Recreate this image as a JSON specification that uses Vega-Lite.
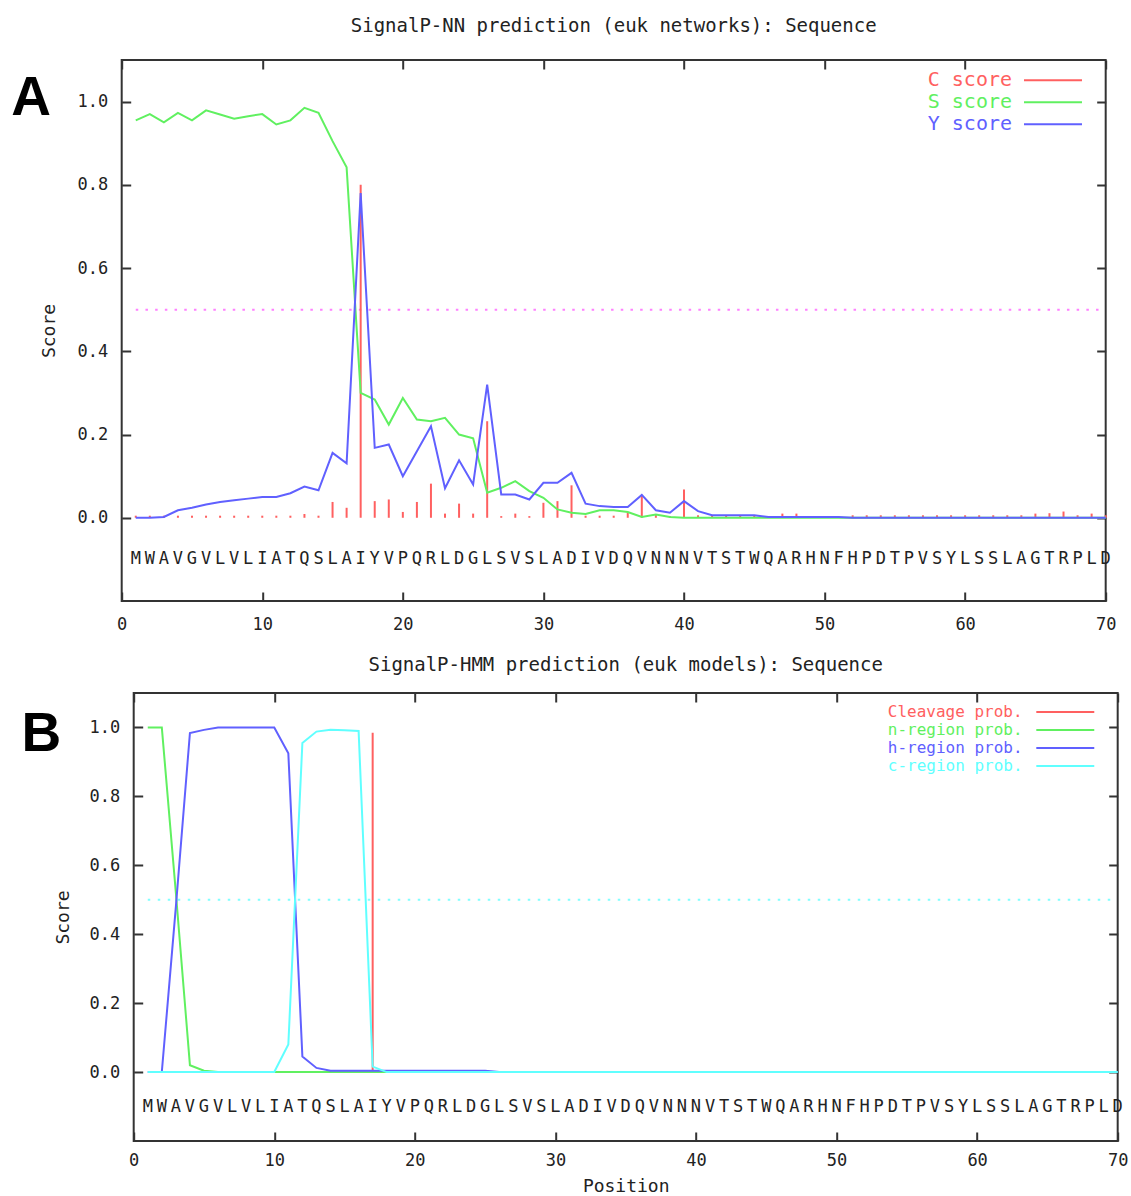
{
  "$schema": "https://vega.github.io/schema/vega-lite/v6.json",
  "background": "white",
  "padding": {"left": 8.7, "top": 16, "right": 5, "bottom": 0},
  "spacing": 21,
  "config": {
    "view": {"stroke": "#333", "strokeWidth": 2},
    "axis": {"domain": false, "grid": false, "tickSize": -9, "tickWidth": 2, "tickColor": "#333", "labelFont": "DejaVu Sans Mono", "labelFontSize": 17, "labelColor": "#222", "labelFlush": false, "labelOverlap": false, "titleFont": "DejaVu Sans Mono", "titleFontSize": 18, "titleFontWeight": "normal", "titleColor": "#222"},
    "legend": {"orient": "none", "title": null, "symbolStrokeWidth": 2, "labelFont": "DejaVu Sans Mono", "labelAlign": "right", "labelLimit": 400, "padding": 0, "rowPadding": 0},
    "title": {"font": "DejaVu Sans Mono", "fontSize": 19, "fontWeight": "normal", "color": "#222"}
  },
  "datasets": {
    "seq": [
      {"pos":1,"aa":"M"},{"pos":2,"aa":"W"},{"pos":3,"aa":"A"},{"pos":4,"aa":"V"},{"pos":5,"aa":"G"},{"pos":6,"aa":"V"},{"pos":7,"aa":"L"},{"pos":8,"aa":"V"},{"pos":9,"aa":"L"},{"pos":10,"aa":"I"},
      {"pos":11,"aa":"A"},{"pos":12,"aa":"T"},{"pos":13,"aa":"Q"},{"pos":14,"aa":"S"},{"pos":15,"aa":"L"},{"pos":16,"aa":"A"},{"pos":17,"aa":"I"},{"pos":18,"aa":"Y"},{"pos":19,"aa":"V"},{"pos":20,"aa":"P"},
      {"pos":21,"aa":"Q"},{"pos":22,"aa":"R"},{"pos":23,"aa":"L"},{"pos":24,"aa":"D"},{"pos":25,"aa":"G"},{"pos":26,"aa":"L"},{"pos":27,"aa":"S"},{"pos":28,"aa":"V"},{"pos":29,"aa":"S"},{"pos":30,"aa":"L"},
      {"pos":31,"aa":"A"},{"pos":32,"aa":"D"},{"pos":33,"aa":"I"},{"pos":34,"aa":"V"},{"pos":35,"aa":"D"},{"pos":36,"aa":"Q"},{"pos":37,"aa":"V"},{"pos":38,"aa":"N"},{"pos":39,"aa":"N"},{"pos":40,"aa":"N"},
      {"pos":41,"aa":"V"},{"pos":42,"aa":"T"},{"pos":43,"aa":"S"},{"pos":44,"aa":"T"},{"pos":45,"aa":"W"},{"pos":46,"aa":"Q"},{"pos":47,"aa":"A"},{"pos":48,"aa":"R"},{"pos":49,"aa":"H"},{"pos":50,"aa":"N"},
      {"pos":51,"aa":"F"},{"pos":52,"aa":"H"},{"pos":53,"aa":"P"},{"pos":54,"aa":"D"},{"pos":55,"aa":"T"},{"pos":56,"aa":"P"},{"pos":57,"aa":"V"},{"pos":58,"aa":"S"},{"pos":59,"aa":"Y"},{"pos":60,"aa":"L"},
      {"pos":61,"aa":"S"},{"pos":62,"aa":"S"},{"pos":63,"aa":"L"},{"pos":64,"aa":"A"},{"pos":65,"aa":"G"},{"pos":66,"aa":"T"},{"pos":67,"aa":"R"},{"pos":68,"aa":"P"},{"pos":69,"aa":"L"},{"pos":70,"aa":"D"}
    ],
    "nn": [
      {"pos":1,"series":"C score","score":0.005},{"pos":2,"series":"C score","score":0.005},{"pos":3,"series":"C score","score":0.005},{"pos":4,"series":"C score","score":0.005},{"pos":5,"series":"C score","score":0.005},
      {"pos":6,"series":"C score","score":0.005},{"pos":7,"series":"C score","score":0.005},{"pos":8,"series":"C score","score":0.005},{"pos":9,"series":"C score","score":0.005},{"pos":10,"series":"C score","score":0.005},
      {"pos":11,"series":"C score","score":0.005},{"pos":12,"series":"C score","score":0.005},{"pos":13,"series":"C score","score":0.009},{"pos":14,"series":"C score","score":0.005},{"pos":15,"series":"C score","score":0.038},
      {"pos":16,"series":"C score","score":0.024},{"pos":17,"series":"C score","score":0.8},{"pos":18,"series":"C score","score":0.04},{"pos":19,"series":"C score","score":0.044},{"pos":20,"series":"C score","score":0.014},
      {"pos":21,"series":"C score","score":0.038},{"pos":22,"series":"C score","score":0.082},{"pos":23,"series":"C score","score":0.01},{"pos":24,"series":"C score","score":0.034},{"pos":25,"series":"C score","score":0.01},
      {"pos":26,"series":"C score","score":0.232},{"pos":27,"series":"C score","score":0.004},{"pos":28,"series":"C score","score":0.01},{"pos":29,"series":"C score","score":0.004},{"pos":30,"series":"C score","score":0.036},
      {"pos":31,"series":"C score","score":0.04},{"pos":32,"series":"C score","score":0.078},{"pos":33,"series":"C score","score":0.005},{"pos":34,"series":"C score","score":0.005},{"pos":35,"series":"C score","score":0.005},
      {"pos":36,"series":"C score","score":0.012},{"pos":37,"series":"C score","score":0.055},{"pos":38,"series":"C score","score":0.007},{"pos":39,"series":"C score","score":0.004},{"pos":40,"series":"C score","score":0.068},
      {"pos":41,"series":"C score","score":0.006},{"pos":42,"series":"C score","score":0.006},{"pos":43,"series":"C score","score":0.006},{"pos":44,"series":"C score","score":0.006},{"pos":45,"series":"C score","score":0.006},
      {"pos":46,"series":"C score","score":0.003},{"pos":47,"series":"C score","score":0.01},{"pos":48,"series":"C score","score":0.01},{"pos":49,"series":"C score","score":0.003},{"pos":50,"series":"C score","score":0.003},
      {"pos":51,"series":"C score","score":0.003},{"pos":52,"series":"C score","score":0.006},{"pos":53,"series":"C score","score":0.006},{"pos":54,"series":"C score","score":0.006},{"pos":55,"series":"C score","score":0.006},
      {"pos":56,"series":"C score","score":0.006},{"pos":57,"series":"C score","score":0.006},{"pos":58,"series":"C score","score":0.006},{"pos":59,"series":"C score","score":0.006},{"pos":60,"series":"C score","score":0.006},
      {"pos":61,"series":"C score","score":0.006},{"pos":62,"series":"C score","score":0.006},{"pos":63,"series":"C score","score":0.006},{"pos":64,"series":"C score","score":0.006},{"pos":65,"series":"C score","score":0.01},
      {"pos":66,"series":"C score","score":0.011},{"pos":67,"series":"C score","score":0.015},{"pos":68,"series":"C score","score":0.006},{"pos":69,"series":"C score","score":0.01},{"pos":70,"series":"C score","score":0.006},

      {"pos":1,"series":"S score","score":0.955},{"pos":2,"series":"S score","score":0.97},{"pos":3,"series":"S score","score":0.95},{"pos":4,"series":"S score","score":0.973},{"pos":5,"series":"S score","score":0.955},
      {"pos":6,"series":"S score","score":0.979},{"pos":7,"series":"S score","score":0.969},{"pos":8,"series":"S score","score":0.959},{"pos":9,"series":"S score","score":0.965},{"pos":10,"series":"S score","score":0.97},
      {"pos":11,"series":"S score","score":0.945},{"pos":12,"series":"S score","score":0.955},{"pos":13,"series":"S score","score":0.985},{"pos":14,"series":"S score","score":0.973},{"pos":15,"series":"S score","score":0.905},
      {"pos":16,"series":"S score","score":0.842},{"pos":17,"series":"S score","score":0.3},{"pos":18,"series":"S score","score":0.284},{"pos":19,"series":"S score","score":0.224},{"pos":20,"series":"S score","score":0.288},
      {"pos":21,"series":"S score","score":0.236},{"pos":22,"series":"S score","score":0.232},{"pos":23,"series":"S score","score":0.24},{"pos":24,"series":"S score","score":0.2},{"pos":25,"series":"S score","score":0.191},
      {"pos":26,"series":"S score","score":0.06},{"pos":27,"series":"S score","score":0.072},{"pos":28,"series":"S score","score":0.088},{"pos":29,"series":"S score","score":0.064},{"pos":30,"series":"S score","score":0.048},
      {"pos":31,"series":"S score","score":0.02},{"pos":32,"series":"S score","score":0.012},{"pos":33,"series":"S score","score":0.009},{"pos":34,"series":"S score","score":0.018},{"pos":35,"series":"S score","score":0.018},
      {"pos":36,"series":"S score","score":0.014},{"pos":37,"series":"S score","score":0.002},{"pos":38,"series":"S score","score":0.008},{"pos":39,"series":"S score","score":0.002},{"pos":40,"series":"S score","score":0},
      {"pos":41,"series":"S score","score":0},{"pos":42,"series":"S score","score":0},{"pos":43,"series":"S score","score":0},{"pos":44,"series":"S score","score":0},{"pos":45,"series":"S score","score":0},
      {"pos":46,"series":"S score","score":0},{"pos":47,"series":"S score","score":0},{"pos":48,"series":"S score","score":0},{"pos":49,"series":"S score","score":0},{"pos":50,"series":"S score","score":0},
      {"pos":51,"series":"S score","score":0},{"pos":52,"series":"S score","score":0},{"pos":53,"series":"S score","score":0},{"pos":54,"series":"S score","score":0},{"pos":55,"series":"S score","score":0},
      {"pos":56,"series":"S score","score":0},{"pos":57,"series":"S score","score":0},{"pos":58,"series":"S score","score":0},{"pos":59,"series":"S score","score":0},{"pos":60,"series":"S score","score":0},
      {"pos":61,"series":"S score","score":0},{"pos":62,"series":"S score","score":0},{"pos":63,"series":"S score","score":0},{"pos":64,"series":"S score","score":0},{"pos":65,"series":"S score","score":0},
      {"pos":66,"series":"S score","score":0},{"pos":67,"series":"S score","score":0},{"pos":68,"series":"S score","score":0},{"pos":69,"series":"S score","score":0},{"pos":70,"series":"S score","score":0},

      {"pos":1,"series":"Y score","score":0},{"pos":2,"series":"Y score","score":0},{"pos":3,"series":"Y score","score":0.002},{"pos":4,"series":"Y score","score":0.018},{"pos":5,"series":"Y score","score":0.024},
      {"pos":6,"series":"Y score","score":0.032},{"pos":7,"series":"Y score","score":0.038},{"pos":8,"series":"Y score","score":0.042},{"pos":9,"series":"Y score","score":0.046},{"pos":10,"series":"Y score","score":0.05},
      {"pos":11,"series":"Y score","score":0.05},{"pos":12,"series":"Y score","score":0.059},{"pos":13,"series":"Y score","score":0.075},{"pos":14,"series":"Y score","score":0.066},{"pos":15,"series":"Y score","score":0.156},
      {"pos":16,"series":"Y score","score":0.131},{"pos":17,"series":"Y score","score":0.78},{"pos":18,"series":"Y score","score":0.168},{"pos":19,"series":"Y score","score":0.176},{"pos":20,"series":"Y score","score":0.1},
      {"pos":21,"series":"Y score","score":0.16},{"pos":22,"series":"Y score","score":0.22},{"pos":23,"series":"Y score","score":0.071},{"pos":24,"series":"Y score","score":0.138},{"pos":25,"series":"Y score","score":0.08},
      {"pos":26,"series":"Y score","score":0.32},{"pos":27,"series":"Y score","score":0.056},{"pos":28,"series":"Y score","score":0.056},{"pos":29,"series":"Y score","score":0.044},{"pos":30,"series":"Y score","score":0.084},
      {"pos":31,"series":"Y score","score":0.084},{"pos":32,"series":"Y score","score":0.108},{"pos":33,"series":"Y score","score":0.034},{"pos":34,"series":"Y score","score":0.028},{"pos":35,"series":"Y score","score":0.026},
      {"pos":36,"series":"Y score","score":0.026},{"pos":37,"series":"Y score","score":0.055},{"pos":38,"series":"Y score","score":0.018},{"pos":39,"series":"Y score","score":0.012},{"pos":40,"series":"Y score","score":0.04},
      {"pos":41,"series":"Y score","score":0.016},{"pos":42,"series":"Y score","score":0.006},{"pos":43,"series":"Y score","score":0.006},{"pos":44,"series":"Y score","score":0.006},{"pos":45,"series":"Y score","score":0.006},
      {"pos":46,"series":"Y score","score":0.002},{"pos":47,"series":"Y score","score":0.002},{"pos":48,"series":"Y score","score":0.002},{"pos":49,"series":"Y score","score":0.002},{"pos":50,"series":"Y score","score":0.002},
      {"pos":51,"series":"Y score","score":0.002},{"pos":52,"series":"Y score","score":0},{"pos":53,"series":"Y score","score":0},{"pos":54,"series":"Y score","score":0},{"pos":55,"series":"Y score","score":0},
      {"pos":56,"series":"Y score","score":0},{"pos":57,"series":"Y score","score":0},{"pos":58,"series":"Y score","score":0},{"pos":59,"series":"Y score","score":0},{"pos":60,"series":"Y score","score":0},
      {"pos":61,"series":"Y score","score":0},{"pos":62,"series":"Y score","score":0},{"pos":63,"series":"Y score","score":0},{"pos":64,"series":"Y score","score":0},{"pos":65,"series":"Y score","score":0},
      {"pos":66,"series":"Y score","score":0},{"pos":67,"series":"Y score","score":0},{"pos":68,"series":"Y score","score":0},{"pos":69,"series":"Y score","score":0},{"pos":70,"series":"Y score","score":0}
    ],
    "hmm": [
      {"pos":17,"series":"Cleavage prob.","score":0.985},

      {"pos":1,"series":"n-region prob.","score":1},{"pos":2,"series":"n-region prob.","score":1},{"pos":3,"series":"n-region prob.","score":0.52},{"pos":4,"series":"n-region prob.","score":0.02},{"pos":5,"series":"n-region prob.","score":0.004},
      {"pos":6,"series":"n-region prob.","score":0},{"pos":7,"series":"n-region prob.","score":0},{"pos":8,"series":"n-region prob.","score":0},{"pos":9,"series":"n-region prob.","score":0},{"pos":10,"series":"n-region prob.","score":0},
      {"pos":11,"series":"n-region prob.","score":0},{"pos":12,"series":"n-region prob.","score":0},{"pos":13,"series":"n-region prob.","score":0},{"pos":14,"series":"n-region prob.","score":0},{"pos":15,"series":"n-region prob.","score":0},
      {"pos":16,"series":"n-region prob.","score":0},{"pos":17,"series":"n-region prob.","score":0},{"pos":18,"series":"n-region prob.","score":0},{"pos":19,"series":"n-region prob.","score":0},{"pos":20,"series":"n-region prob.","score":0},
      {"pos":21,"series":"n-region prob.","score":0},{"pos":22,"series":"n-region prob.","score":0},{"pos":23,"series":"n-region prob.","score":0},{"pos":24,"series":"n-region prob.","score":0},{"pos":25,"series":"n-region prob.","score":0},
      {"pos":26,"series":"n-region prob.","score":0},{"pos":27,"series":"n-region prob.","score":0},{"pos":28,"series":"n-region prob.","score":0},{"pos":29,"series":"n-region prob.","score":0},{"pos":30,"series":"n-region prob.","score":0},
      {"pos":31,"series":"n-region prob.","score":0},{"pos":32,"series":"n-region prob.","score":0},{"pos":33,"series":"n-region prob.","score":0},{"pos":34,"series":"n-region prob.","score":0},{"pos":35,"series":"n-region prob.","score":0},
      {"pos":36,"series":"n-region prob.","score":0},{"pos":37,"series":"n-region prob.","score":0},{"pos":38,"series":"n-region prob.","score":0},{"pos":39,"series":"n-region prob.","score":0},{"pos":40,"series":"n-region prob.","score":0},
      {"pos":41,"series":"n-region prob.","score":0},{"pos":42,"series":"n-region prob.","score":0},{"pos":43,"series":"n-region prob.","score":0},{"pos":44,"series":"n-region prob.","score":0},{"pos":45,"series":"n-region prob.","score":0},
      {"pos":46,"series":"n-region prob.","score":0},{"pos":47,"series":"n-region prob.","score":0},{"pos":48,"series":"n-region prob.","score":0},{"pos":49,"series":"n-region prob.","score":0},{"pos":50,"series":"n-region prob.","score":0},
      {"pos":51,"series":"n-region prob.","score":0},{"pos":52,"series":"n-region prob.","score":0},{"pos":53,"series":"n-region prob.","score":0},{"pos":54,"series":"n-region prob.","score":0},{"pos":55,"series":"n-region prob.","score":0},
      {"pos":56,"series":"n-region prob.","score":0},{"pos":57,"series":"n-region prob.","score":0},{"pos":58,"series":"n-region prob.","score":0},{"pos":59,"series":"n-region prob.","score":0},{"pos":60,"series":"n-region prob.","score":0},
      {"pos":61,"series":"n-region prob.","score":0},{"pos":62,"series":"n-region prob.","score":0},{"pos":63,"series":"n-region prob.","score":0},{"pos":64,"series":"n-region prob.","score":0},{"pos":65,"series":"n-region prob.","score":0},
      {"pos":66,"series":"n-region prob.","score":0},{"pos":67,"series":"n-region prob.","score":0},{"pos":68,"series":"n-region prob.","score":0},{"pos":69,"series":"n-region prob.","score":0},{"pos":70,"series":"n-region prob.","score":0},

      {"pos":1,"series":"h-region prob.","score":0},{"pos":2,"series":"h-region prob.","score":0},{"pos":3,"series":"h-region prob.","score":0.48},{"pos":4,"series":"h-region prob.","score":0.984},{"pos":5,"series":"h-region prob.","score":0.993},
      {"pos":6,"series":"h-region prob.","score":1},{"pos":7,"series":"h-region prob.","score":1},{"pos":8,"series":"h-region prob.","score":1},{"pos":9,"series":"h-region prob.","score":1},{"pos":10,"series":"h-region prob.","score":1},
      {"pos":11,"series":"h-region prob.","score":0.925},{"pos":12,"series":"h-region prob.","score":0.045},{"pos":13,"series":"h-region prob.","score":0.012},{"pos":14,"series":"h-region prob.","score":0.004},{"pos":15,"series":"h-region prob.","score":0.004},
      {"pos":16,"series":"h-region prob.","score":0.004},{"pos":17,"series":"h-region prob.","score":0.004},{"pos":18,"series":"h-region prob.","score":0.004},{"pos":19,"series":"h-region prob.","score":0.004},{"pos":20,"series":"h-region prob.","score":0.004},
      {"pos":21,"series":"h-region prob.","score":0.004},{"pos":22,"series":"h-region prob.","score":0.004},{"pos":23,"series":"h-region prob.","score":0.004},{"pos":24,"series":"h-region prob.","score":0.004},{"pos":25,"series":"h-region prob.","score":0.004},
      {"pos":26,"series":"h-region prob.","score":0},{"pos":27,"series":"h-region prob.","score":0},{"pos":28,"series":"h-region prob.","score":0},{"pos":29,"series":"h-region prob.","score":0},{"pos":30,"series":"h-region prob.","score":0},
      {"pos":31,"series":"h-region prob.","score":0},{"pos":32,"series":"h-region prob.","score":0},{"pos":33,"series":"h-region prob.","score":0},{"pos":34,"series":"h-region prob.","score":0},{"pos":35,"series":"h-region prob.","score":0},
      {"pos":36,"series":"h-region prob.","score":0},{"pos":37,"series":"h-region prob.","score":0},{"pos":38,"series":"h-region prob.","score":0},{"pos":39,"series":"h-region prob.","score":0},{"pos":40,"series":"h-region prob.","score":0},
      {"pos":41,"series":"h-region prob.","score":0},{"pos":42,"series":"h-region prob.","score":0},{"pos":43,"series":"h-region prob.","score":0},{"pos":44,"series":"h-region prob.","score":0},{"pos":45,"series":"h-region prob.","score":0},
      {"pos":46,"series":"h-region prob.","score":0},{"pos":47,"series":"h-region prob.","score":0},{"pos":48,"series":"h-region prob.","score":0},{"pos":49,"series":"h-region prob.","score":0},{"pos":50,"series":"h-region prob.","score":0},
      {"pos":51,"series":"h-region prob.","score":0},{"pos":52,"series":"h-region prob.","score":0},{"pos":53,"series":"h-region prob.","score":0},{"pos":54,"series":"h-region prob.","score":0},{"pos":55,"series":"h-region prob.","score":0},
      {"pos":56,"series":"h-region prob.","score":0},{"pos":57,"series":"h-region prob.","score":0},{"pos":58,"series":"h-region prob.","score":0},{"pos":59,"series":"h-region prob.","score":0},{"pos":60,"series":"h-region prob.","score":0},
      {"pos":61,"series":"h-region prob.","score":0},{"pos":62,"series":"h-region prob.","score":0},{"pos":63,"series":"h-region prob.","score":0},{"pos":64,"series":"h-region prob.","score":0},{"pos":65,"series":"h-region prob.","score":0},
      {"pos":66,"series":"h-region prob.","score":0},{"pos":67,"series":"h-region prob.","score":0},{"pos":68,"series":"h-region prob.","score":0},{"pos":69,"series":"h-region prob.","score":0},{"pos":70,"series":"h-region prob.","score":0},

      {"pos":1,"series":"c-region prob.","score":0},{"pos":2,"series":"c-region prob.","score":0},{"pos":3,"series":"c-region prob.","score":0},{"pos":4,"series":"c-region prob.","score":0},{"pos":5,"series":"c-region prob.","score":0},
      {"pos":6,"series":"c-region prob.","score":0},{"pos":7,"series":"c-region prob.","score":0},{"pos":8,"series":"c-region prob.","score":0},{"pos":9,"series":"c-region prob.","score":0},{"pos":10,"series":"c-region prob.","score":0},
      {"pos":11,"series":"c-region prob.","score":0.08},{"pos":12,"series":"c-region prob.","score":0.955},{"pos":13,"series":"c-region prob.","score":0.988},{"pos":14,"series":"c-region prob.","score":0.993},{"pos":15,"series":"c-region prob.","score":0.992},
      {"pos":16,"series":"c-region prob.","score":0.99},{"pos":17,"series":"c-region prob.","score":0.016},{"pos":18,"series":"c-region prob.","score":0},{"pos":19,"series":"c-region prob.","score":0},{"pos":20,"series":"c-region prob.","score":0},
      {"pos":21,"series":"c-region prob.","score":0},{"pos":22,"series":"c-region prob.","score":0},{"pos":23,"series":"c-region prob.","score":0},{"pos":24,"series":"c-region prob.","score":0},{"pos":25,"series":"c-region prob.","score":0},
      {"pos":26,"series":"c-region prob.","score":0},{"pos":27,"series":"c-region prob.","score":0},{"pos":28,"series":"c-region prob.","score":0},{"pos":29,"series":"c-region prob.","score":0},{"pos":30,"series":"c-region prob.","score":0},
      {"pos":31,"series":"c-region prob.","score":0},{"pos":32,"series":"c-region prob.","score":0},{"pos":33,"series":"c-region prob.","score":0},{"pos":34,"series":"c-region prob.","score":0},{"pos":35,"series":"c-region prob.","score":0},
      {"pos":36,"series":"c-region prob.","score":0},{"pos":37,"series":"c-region prob.","score":0},{"pos":38,"series":"c-region prob.","score":0},{"pos":39,"series":"c-region prob.","score":0},{"pos":40,"series":"c-region prob.","score":0},
      {"pos":41,"series":"c-region prob.","score":0},{"pos":42,"series":"c-region prob.","score":0},{"pos":43,"series":"c-region prob.","score":0},{"pos":44,"series":"c-region prob.","score":0},{"pos":45,"series":"c-region prob.","score":0},
      {"pos":46,"series":"c-region prob.","score":0},{"pos":47,"series":"c-region prob.","score":0},{"pos":48,"series":"c-region prob.","score":0},{"pos":49,"series":"c-region prob.","score":0},{"pos":50,"series":"c-region prob.","score":0},
      {"pos":51,"series":"c-region prob.","score":0},{"pos":52,"series":"c-region prob.","score":0},{"pos":53,"series":"c-region prob.","score":0},{"pos":54,"series":"c-region prob.","score":0},{"pos":55,"series":"c-region prob.","score":0},
      {"pos":56,"series":"c-region prob.","score":0},{"pos":57,"series":"c-region prob.","score":0},{"pos":58,"series":"c-region prob.","score":0},{"pos":59,"series":"c-region prob.","score":0},{"pos":60,"series":"c-region prob.","score":0},
      {"pos":61,"series":"c-region prob.","score":0},{"pos":62,"series":"c-region prob.","score":0},{"pos":63,"series":"c-region prob.","score":0},{"pos":64,"series":"c-region prob.","score":0},{"pos":65,"series":"c-region prob.","score":0},
      {"pos":66,"series":"c-region prob.","score":0},{"pos":67,"series":"c-region prob.","score":0},{"pos":68,"series":"c-region prob.","score":0},{"pos":69,"series":"c-region prob.","score":0},{"pos":70,"series":"c-region prob.","score":0}
    ]
  },
  "resolve": {"scale": {"color": "independent"}, "legend": {"color": "independent"}},
  "vconcat": [
    {
      "spacing": 0,
      "hconcat": [
        {
          "width": 1,
          "height": 1,
          "view": {"stroke": null},
          "data": {"values": [{"t": ""}]},
          "mark": {"type": "text"},
          "encoding": {"text": {"field": "t"}}
        },
        {
          "width": 984,
          "height": 541,
          "title": {"text": "SignalP-NN prediction (euk networks): Sequence", "offset": 23},
          "resolve": {"axis": {"x": "independent", "y": "independent"}},
          "layer": [
            {
              "data": {"values": [{"cut": 0.5}]},
              "mark": {"type": "rule", "color": "#ff80ff", "strokeWidth": 2, "strokeDash": [2.5, 7.2]},
              "encoding": {
                "x": {"datum": 1, "type": "quantitative", "scale": {"domain": [0, 70], "nice": false, "zero": false}, "axis": null},
                "x2": {"datum": 70},
                "y": {"field": "cut", "type": "quantitative", "scale": {"domain": [-0.2, 1.1], "nice": false, "zero": false}, "axis": null}
              }
            },
            {
              "data": {"name": "nn"},
              "transform": [{"filter": "datum.series === 'C score'"}],
              "mark": {"type": "rule", "strokeWidth": 2},
              "encoding": {
                "x": {"field": "pos", "type": "quantitative", "axis": null},
                "y": {"field": "score", "type": "quantitative", "axis": null},
                "y2": {"datum": 0},
                "color": {
                  "field": "series", "type": "nominal",
                  "scale": {"domain": ["C score", "S score", "Y score"], "range": ["#ff6060", "#60f060", "#6060ff"]},
                  "legend": {
                    "legendX": 917.3, "legendY": 8.3, "labelFontSize": 20, "symbolType": "M-2.636,0H2.636", "symbolSize": 484, "labelOffset": -53, "symbolOffset": 115,
                    "encode": {"labels": {"update": {"fill": {"signal": "datum.value === 'C score' ? '#ff6060' : datum.value === 'S score' ? '#60f060' : '#6060ff'"}}}}
                  }
                }
              }
            },
            {
              "data": {"name": "nn"},
              "transform": [{"filter": "datum.series === 'S score'"}],
              "mark": {"type": "line", "strokeWidth": 2},
              "encoding": {
                "x": {"field": "pos", "type": "quantitative", "axis": {"orient": "top", "values": [0, 10, 20, 30, 40, 50, 60, 70], "labels": false, "title": null}},
                "y": {"field": "score", "type": "quantitative", "axis": {"orient": "right", "values": [0, 0.2, 0.4, 0.6, 0.8, 1], "labels": false, "title": null}},
                "color": {"field": "series", "type": "nominal"}
              }
            },
            {
              "data": {"name": "nn"},
              "transform": [{"filter": "datum.series === 'Y score'"}],
              "mark": {"type": "line", "strokeWidth": 2},
              "encoding": {
                "x": {"field": "pos", "type": "quantitative", "axis": {"orient": "bottom", "values": [0, 10, 20, 30, 40, 50, 60, 70], "format": "d", "labelPadding": 25, "title": null}},
                "y": {"field": "score", "type": "quantitative", "axis": {"orient": "left", "values": [0, 0.2, 0.4, 0.6, 0.8, 1], "format": ".1f", "labelPadding": 23, "title": "Score", "titlePadding": 18}},
                "color": {"field": "series", "type": "nominal"}
              }
            },
            {
              "data": {"name": "seq"},
              "mark": {"type": "text", "font": "DejaVu Sans Mono", "fontSize": 17, "color": "#222", "baseline": "middle"},
              "encoding": {
                "x": {"field": "pos", "type": "quantitative", "axis": null},
                "y": {"datum": -0.1, "type": "quantitative", "axis": null},
                "text": {"field": "aa"}
              }
            },
            {
              "data": {"values": [{"label": "A"}]},
              "mark": {"type": "text", "font": "Liberation Sans", "fontWeight": "bold", "fontSize": 55, "color": "#000", "align": "center", "baseline": "middle"},
              "encoding": {
                "x": {"datum": -6.45, "type": "quantitative", "axis": null},
                "y": {"datum": 1.008, "type": "quantitative", "axis": null},
                "text": {"field": "label"}
              }
            }
          ]
        }
      ]
    },
    {
      "spacing": 0,
      "hconcat": [
        {
          "width": 10.6,
          "height": 1,
          "view": {"stroke": null},
          "data": {"values": [{"t": ""}]},
          "mark": {"type": "text"},
          "encoding": {"text": {"field": "t"}}
        },
        {
          "width": 984,
          "height": 448,
          "title": {"text": "SignalP-HMM prediction (euk models): Sequence", "offset": 17},
          "resolve": {"axis": {"x": "independent", "y": "independent"}},
          "layer": [
            {
              "data": {"values": [{"cut": 0.5}]},
              "mark": {"type": "rule", "color": "#80ffff", "strokeWidth": 2, "strokeDash": [2.5, 7.5]},
              "encoding": {
                "x": {"datum": 1, "type": "quantitative", "scale": {"domain": [0, 70], "nice": false, "zero": false}, "axis": null},
                "x2": {"datum": 70},
                "y": {"field": "cut", "type": "quantitative", "scale": {"domain": [-0.2, 1.1], "nice": false, "zero": false}, "axis": null}
              }
            },
            {
              "data": {"name": "hmm"},
              "transform": [{"filter": "datum.series === 'Cleavage prob.'"}],
              "mark": {"type": "rule", "strokeWidth": 2},
              "encoding": {
                "x": {"field": "pos", "type": "quantitative", "axis": null},
                "y": {"field": "score", "type": "quantitative", "axis": null},
                "y2": {"datum": 0},
                "color": {
                  "field": "series", "type": "nominal",
                  "scale": {"domain": ["Cleavage prob.", "n-region prob.", "h-region prob.", "c-region prob."], "range": ["#ff6060", "#60f060", "#6060ff", "#60ffff"]},
                  "legend": {
                    "legendX": 851.3, "legendY": 9, "labelFontSize": 16, "symbolType": "M-3.33,0H3.33", "symbolSize": 303, "labelOffset": -52.7, "symbolOffset": 195.3,
                    "encode": {"labels": {"update": {"fill": {"signal": "datum.value === 'Cleavage prob.' ? '#ff6060' : datum.value === 'n-region prob.' ? '#60f060' : datum.value === 'h-region prob.' ? '#6060ff' : '#60ffff'"}}}}
                  }
                }
              }
            },
            {
              "data": {"name": "hmm"},
              "transform": [{"filter": "datum.series === 'n-region prob.'"}],
              "mark": {"type": "line", "strokeWidth": 2},
              "encoding": {
                "x": {"field": "pos", "type": "quantitative", "axis": {"orient": "top", "values": [0, 10, 20, 30, 40, 50, 60, 70], "labels": false, "title": null}},
                "y": {"field": "score", "type": "quantitative", "axis": {"orient": "right", "values": [0, 0.2, 0.4, 0.6, 0.8, 1], "labels": false, "title": null}},
                "color": {"field": "series", "type": "nominal"}
              }
            },
            {
              "data": {"name": "hmm"},
              "transform": [{"filter": "datum.series === 'h-region prob.'"}],
              "mark": {"type": "line", "strokeWidth": 2},
              "encoding": {
                "x": {"field": "pos", "type": "quantitative", "axis": {"orient": "bottom", "values": [0, 10, 20, 30, 40, 50, 60, 70], "format": "d", "labelPadding": 21, "title": "Position", "titlePadding": 9}},
                "y": {"field": "score", "type": "quantitative", "axis": {"orient": "left", "values": [0, 0.2, 0.4, 0.6, 0.8, 1], "format": ".1f", "labelPadding": 23, "title": "Score", "titlePadding": 16}},
                "color": {"field": "series", "type": "nominal"}
              }
            },
            {
              "data": {"name": "hmm"},
              "transform": [{"filter": "datum.series === 'c-region prob.'"}],
              "mark": {"type": "line", "strokeWidth": 2},
              "encoding": {
                "x": {"field": "pos", "type": "quantitative", "axis": null},
                "y": {"field": "score", "type": "quantitative", "axis": null},
                "color": {"field": "series", "type": "nominal"}
              }
            },
            {
              "data": {"name": "seq"},
              "mark": {"type": "text", "font": "DejaVu Sans Mono", "fontSize": 17, "color": "#222", "baseline": "middle"},
              "encoding": {
                "x": {"field": "pos", "type": "quantitative", "axis": null},
                "y": {"datum": -0.1, "type": "quantitative", "axis": null},
                "text": {"field": "aa"}
              }
            },
            {
              "data": {"values": [{"label": "B"}]},
              "mark": {"type": "text", "font": "Liberation Sans", "fontWeight": "bold", "fontSize": 55, "color": "#000", "align": "center", "baseline": "middle"},
              "encoding": {
                "x": {"datum": -6.57, "type": "quantitative", "axis": null},
                "y": {"datum": 0.982, "type": "quantitative", "axis": null},
                "text": {"field": "label"}
              }
            }
          ]
        }
      ]
    }
  ]
}
